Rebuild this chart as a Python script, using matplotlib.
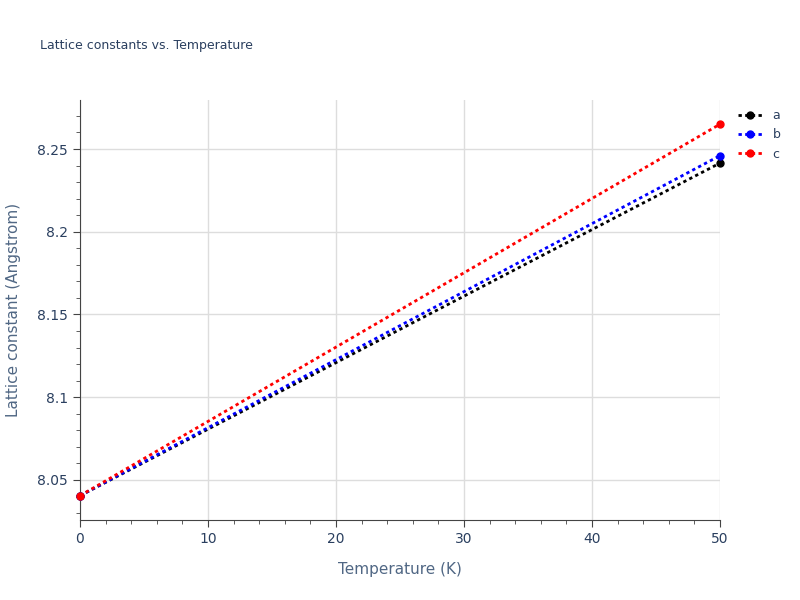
import matplotlib
matplotlib.use("Agg")
import matplotlib.pyplot as plt
from matplotlib.ticker import MultipleLocator

temps = [0, 50]
a_vals = [8.0405, 8.2415]
b_vals = [8.0405, 8.2460]
c_vals = [8.0405, 8.2650]
names = ["a", "b", "c"]
colors = ["black", "blue", "red"]

fig = plt.figure(figsize=(8, 6), dpi=100)
ax = fig.add_axes([0.1, 0.1333, 0.8, 0.7])
for vals, n, c in zip([a_vals, b_vals, c_vals], names, colors):
    ax.plot(temps, vals, linestyle=(0, (1.2, 1.2)), lw=2, color=c, marker="o", ms=5, label=n, clip_on=False, zorder=3)
ax.set_xlim(0, 50)
ax.set_ylim(8.0258, 8.2796)
ax.set_xticks([0, 10, 20, 30, 40, 50])
ax.set_yticks([8.05, 8.1, 8.15, 8.2, 8.25])
ax.set_yticklabels(["8.05", "8.1", "8.15", "8.2", "8.25"])
ax.xaxis.set_minor_locator(MultipleLocator(2))
ax.yaxis.set_minor_locator(MultipleLocator(0.01))
ax.grid(True, color="#dddddd", lw=1)
for s in ["top", "right"]:
    ax.spines[s].set_visible(False)
ax.spines["left"].set_color("#444444")
ax.spines["bottom"].set_color("#444444")
ax.tick_params(colors="#444444", labelcolor="#2a3f5f", labelsize=10, length=5)
ax.tick_params(which="minor", length=3, colors="#444444")
ax.set_xlabel("Temperature (K)", color="#506784", fontsize=11, labelpad=12)
ax.set_ylabel("Lattice constant (Angstrom)", color="#506784", fontsize=11, labelpad=12)
fig.text(0.05, 0.918, "Lattice constants vs. Temperature", color="#2a3f5f", fontsize=9)
leg = ax.legend(loc="upper left", bbox_to_anchor=(1.01, 1.005), frameon=False, fontsize=9, handlelength=2)
for t in leg.get_texts():
    t.set_color("#2a3f5f")
fig.savefig("out.png")
